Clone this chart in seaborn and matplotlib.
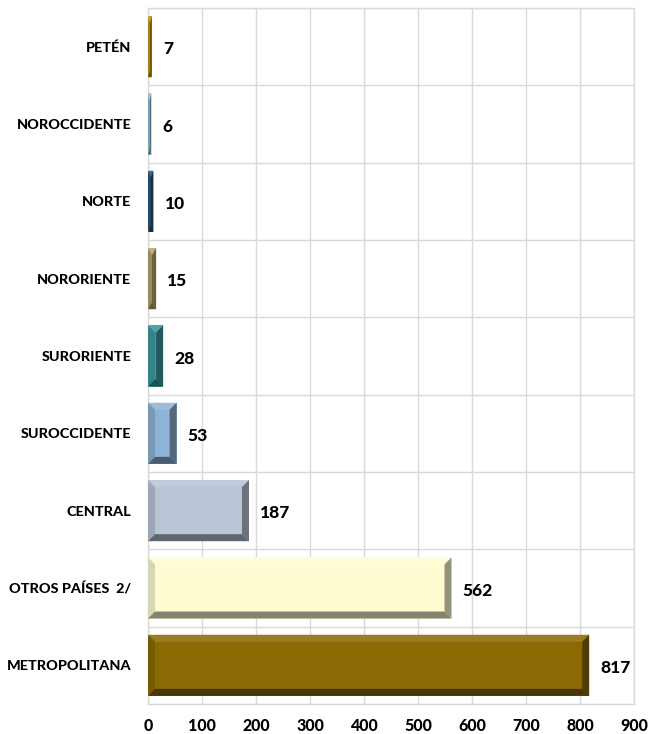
import numpy as np
import pandas as pd
import matplotlib.pyplot as plt
import matplotlib.colors as mcolors
from matplotlib.patches import Polygon
import seaborn as sns

REGIONS = ["PETÉN", "NOROCCIDENTE", "NORTE", "NORORIENTE", "SURORIENTE",
           "SUROCCIDENTE", "CENTRAL", "OTROS PAÍSES  2/", "METROPOLITANA"]
VALUES = [7, 6, 10, 15, 28, 53, 187, 562, 817]
COLORS = ["#C49A0C", "#8FC4D6", "#2E5275", "#B3A56E", "#3A9AA0",
          "#8DB3D6", "#B9C4D6", "#FFFCD2", "#8B6A06"]
X_TICKS = [0, 100, 200, 300, 400, 500, 600, 700, 800, 900]

GRID = "#D9D9D9"


def shade(color, factor):
    rgb = np.array(mcolors.to_rgb(color))
    if factor >= 1:
        rgb = rgb + (1 - rgb) * (factor - 1)
    else:
        rgb = rgb * factor
    return tuple(np.clip(rgb, 0, 1))


def add_bevel(ax, bar, color, dx_px=7, dy_px=7):
    """Draw Excel-like bevel faces on top of a bar patch."""
    x0, y0 = bar.get_x(), bar.get_y()
    w, h = bar.get_width(), bar.get_height()
    x1, y1 = x0 + w, y0 + h
    # convert pixel bevel size into data units
    inv = ax.transData.inverted()
    p0 = inv.transform((0, 0))
    p1 = inv.transform((dx_px, dy_px))
    dx = min(abs(p1[0] - p0[0]), w / 2)
    dy = min(abs(p1[1] - p0[1]), h / 2)
    # y axis inverted: y0 is visually the top edge
    faces = [
        ([(x0, y0), (x1, y0), (x1 - dx, y0 + dy), (x0 + dx, y0 + dy)], 1.12),
        ([(x0, y0), (x0 + dx, y0 + dy), (x0 + dx, y1 - dy), (x0, y1)], 0.85),
        ([(x1, y0), (x1, y1), (x1 - dx, y1 - dy), (x1 - dx, y0 + dy)], 0.58),
        ([(x0, y1), (x0 + dx, y1 - dy), (x1 - dx, y1 - dy), (x1, y1)], 0.52),
    ]
    for pts, f in faces:
        ax.add_patch(Polygon(pts, closed=True, facecolor=shade(color, f),
                             edgecolor="none", zorder=3))


def main():
    df = pd.DataFrame({"region": REGIONS, "value": VALUES})

    sns.set_theme(style="white")
    plt.rcParams["font.family"] = ["Lato", "DejaVu Sans"]

    fig = plt.figure(figsize=(6.62, 7.34), dpi=100)
    ax = fig.add_axes([0.2236, 0.0409, 0.9577 - 0.2236, 0.9891 - 0.0409])

    sns.barplot(data=df, x="value", y="region", hue="region", palette=COLORS,
                legend=False, width=0.79, saturation=1, ax=ax, zorder=2)

    ax.set_xlim(0, 900)
    ax.set_ylim(len(REGIONS) - 0.5, -0.5)
    ax.set_xticks(X_TICKS)
    ax.set_xticklabels([str(t) for t in X_TICKS], fontsize=11.5, fontweight="black")
    ax.set_yticks(range(len(REGIONS)))
    ax.set_yticklabels(REGIONS, fontsize=10.4, fontweight="black")
    ax.set_yticks(np.arange(len(REGIONS) + 1) - 0.5, minor=True)
    ax.tick_params(axis="x", length=0, pad=10, colors="black")
    ax.tick_params(axis="y", which="both", length=0, pad=12, colors="black")
    ax.set_xlabel("")
    ax.set_ylabel("")

    ax.grid(True, axis="x", which="major", color=GRID, linewidth=1, zorder=0)
    ax.grid(True, axis="y", which="minor", color=GRID, linewidth=1, zorder=0)
    ax.grid(False, axis="y", which="major")
    ax.set_axisbelow(True)
    for sp in ax.spines.values():
        sp.set_color(GRID)
        sp.set_linewidth(1)

    for bar, color, val in zip(ax.patches, COLORS, VALUES):
        bar.set_edgecolor("none")
        add_bevel(ax, bar, color)
        ax.annotate(str(val), (bar.get_width(), bar.get_y() + bar.get_height() / 2),
                    xytext=(8, -2), textcoords="offset points", va="center",
                    ha="left", fontsize=12.5, fontweight="black", color="black")

    fig.savefig("out.png", dpi=100)
    plt.close(fig)


if __name__ == "__main__":
    main()
